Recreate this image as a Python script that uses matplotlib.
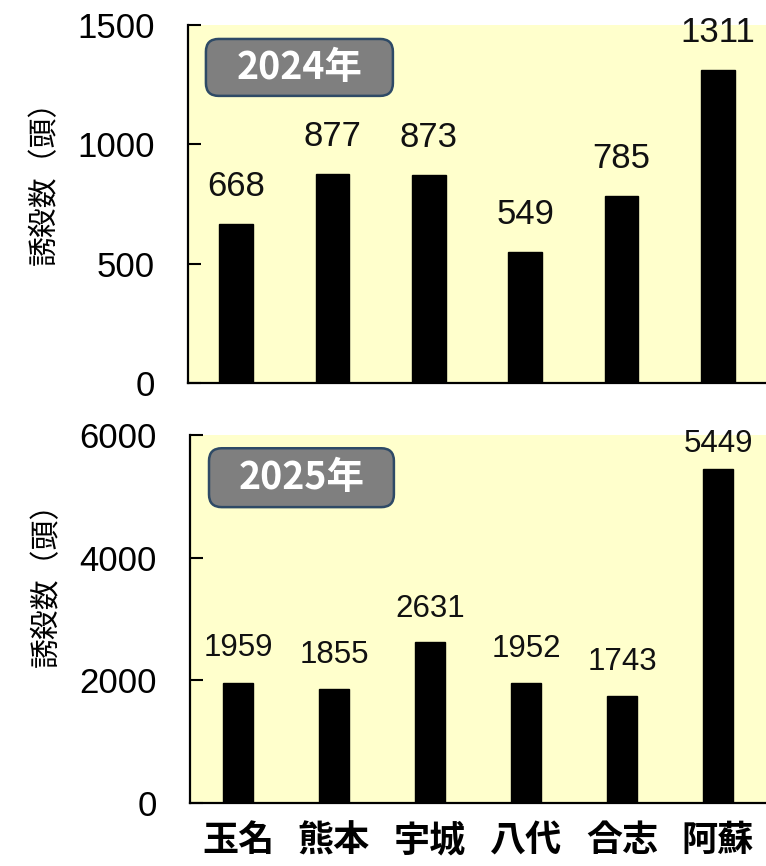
import matplotlib
matplotlib.use("Agg")
import matplotlib.pyplot as plt
from matplotlib.patches import FancyBboxPatch

plt.rcParams['font.family'] = ['Noto Sans CJK JP', 'DejaVu Sans']

categories = ['玉名', '熊本', '宇城', '八代', '合志', '阿蘇']
values_2024 = [668, 877, 873, 549, 785, 1311]
values_2025 = [1959, 1855, 2631, 1952, 1743, 5449]
years = ['2024年', '2025年']
yticks_2024 = [0, 500, 1000, 1500]
yticks_2025 = [0, 2000, 4000, 6000]
ylabel = '誘殺数（頭）'

W, H = 766, 866
fig = plt.figure(figsize=(W / 100, H / 100), dpi=100)
fig.patch.set_facecolor('white')

bg = '#FFFFCC'
box_face = '#7F7F7F'
box_edge = '#2E4A66'


def px_axes(left, right, top, bottom):
    return [left / W, (H - bottom) / H, (right - left) / W, (bottom - top) / H]


def setup(ax, vals, ticks, bar_w, label_font, label_size, offsets, year, box, label_y):
    x = list(range(len(vals)))
    ax.set_facecolor(bg)
    ax.bar(x, vals, width=bar_w, color='black', edgecolor='black')
    ax.set_xlim(-0.5, len(vals) - 0.5)
    ax.set_ylim(ticks[0], ticks[-1])
    ax.set_yticks(ticks)
    ax.set_yticklabels([str(t) for t in ticks], family='Liberation Sans', fontsize=25)
    ax.tick_params(axis='y', direction='in', length=9, width=1.5, pad=24)
    for s in ['top', 'right']:
        ax.spines[s].set_visible(False)
    for s in ['left', 'bottom']:
        ax.spines[s].set_linewidth(1.6)
        ax.spines[s].set_color('black')
    for i, v in enumerate(vals):
        ax.annotate(str(v), (i, v), xytext=(0, offsets[i]), textcoords='offset points',
                    ha='center', va='baseline', fontsize=label_size, family=label_font,
                    color='#111111', annotation_clip=False)
    ax.set_ylabel(ylabel, fontsize=21.5)
    ax.yaxis.set_label_coords(-0.222, label_y)
    bx, by, bw, bh = box
    pos = ax.get_position()
    aspect = (pos.width * W) / (pos.height * H)
    patch = FancyBboxPatch((bx, by), bw, bh, boxstyle='round,pad=0,rounding_size=0.022',
                           mutation_aspect=aspect, transform=ax.transAxes,
                           facecolor=box_face, edgecolor=box_edge, linewidth=1.8,
                           zorder=5, clip_on=False)
    ax.add_patch(patch)
    ax.text(bx + bw / 2, by + bh / 2, year, transform=ax.transAxes, ha='center', va='center',
            color='white', fontsize=27, fontweight='bold', zorder=6)


ax1 = fig.add_axes(px_axes(188, 766, 25, 383))
setup(ax1, values_2024, yticks_2024, 0.35, 'Liberation Sans', 25,
      [20, 20, 20, 20, 20, 20], years[0], (0.031, 0.802, 0.3235, 0.159), 0.58)
ax1.set_xticks([])

ax2 = fig.add_axes(px_axes(190, 766, 435, 803))
setup(ax2, values_2025, yticks_2025, 0.31, 'Liberation Sans', 22.5,
      [19, 19, 18, 19, 19, 12], years[1], (0.033, 0.804, 0.321, 0.160), 0.614)
ax2.set_xticks(range(len(categories)))
ax2.set_xticklabels(categories, fontsize=26, fontweight='bold')
ax2.tick_params(axis='x', length=0, pad=14)

fig.savefig('out.png', dpi=100, facecolor='white')
